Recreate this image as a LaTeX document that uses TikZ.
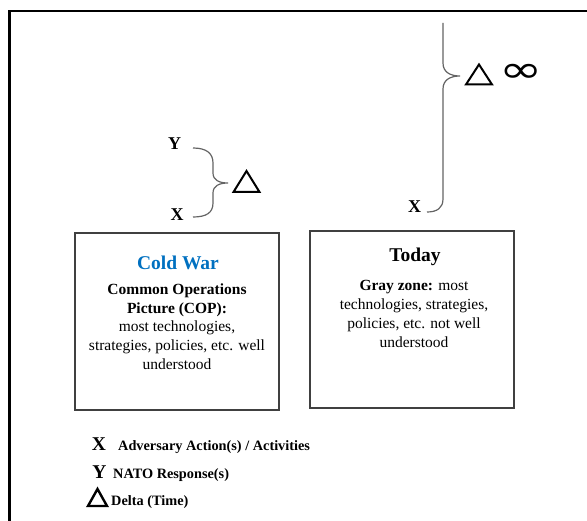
\documentclass[tikz,border=0pt]{standalone}
\usepackage{fontspec}
\usetikzlibrary{calc}
\setmainfont{Liberation Serif}
\newfontfamily\symfont{DejaVu Sans}
\definecolor{cwblue}{RGB}{0,112,192}
\definecolor{boxgray}{RGB}{64,64,64}
\definecolor{bracegray}{RGB}{100,100,100}
\begin{document}
\begin{tikzpicture}[x=1pt,y=-1pt,
  panel/.style={draw=boxgray,line width=1.3pt,minimum width=204pt,minimum height=177pt,inner sep=0pt},
  ln/.style={anchor=base,inner sep=0pt,font=\fontsize{15.5}{19}\selectfont},
  lnb/.style={ln,font=\fontsize{15.5}{19}\selectfont\bfseries},
  ttl/.style={anchor=base,inner sep=0pt,font=\fontsize{19.5}{22}\selectfont\bfseries},
  lbl/.style={anchor=base,inner sep=0pt,font=\fontsize{18}{20}\selectfont\bfseries},
  bigl/.style={anchor=base,inner sep=0pt,font=\fontsize{19.5}{22}\selectfont\bfseries},
  leg/.style={anchor=base west,inner sep=0pt,font=\fontsize{14.3}{17}\selectfont\bfseries},
  brace/.style={draw=bracegray,line width=1.2pt},
  tri/.style={draw=black,line width=2pt,line join=miter},
  frame/.style={draw=black,line width=2.2pt}]
\useasboundingbox (0,0) rectangle (587,521);
% outer frame
\coordinate (fbl) at (9.5,521);
\coordinate (ftl) at (9.5,11);
\coordinate (ftr) at (587,11);
\draw[frame] (fbl) -- (ftl) -- (ftr);

% panels
\node[panel] (cw) at (177,321.5) {};
\node[panel] (td) at (412,319.5) {};

% Cold War text
\node[ttl,text=cwblue] (cwt) at (178,270) {Cold War};
\node[lnb] (cw1) at (177,295) {Common Operations};
\node[lnb] (cw2) at (177,313.5) {Picture (COP):};
\node[ln] (cw3) at (177,332) {most technologies,};
\node[ln] (cw4) at (177,351) {strategies, policies, etc. well};
\node[ln] (cw5) at (177,369.5) {understood};

% Today text
\node[ttl] (tdt) at (415,262) {Today};
\node[ln] (td1) at (414,291) {\textbf{Gray zone:} most};
\node[ln] (td2) at (414,310) {technologies, strategies,};
\node[ln] (td3) at (414,329) {policies, etc. not well};
\node[ln] (td4) at (414,348) {understood};

% left brace
\node[lbl] (ly) at (174.5,150) {Y};
\node[lbl] (lx) at (177,221) {X};
\coordinate (lb1) at (193,148);
\coordinate (lb2) at (193,217);
\coordinate (lbt) at (228,183);
\draw[brace] (lb1) .. controls (206,148) and (213,153) .. (213,163) -- (213,173)
  .. controls (213,180) and (219,183) .. (lbt)
  .. controls (219,183) and (213,186) .. (213,193) -- (213,203)
  .. controls (213,213) and (206,217) .. (lb2);
\coordinate (t1) at (246.5,181.5);
\draw[tri] ($(t1)+(0,-10.5)$) -- ($(t1)+(13,10.5)$) -- ($(t1)+(-13,10.5)$) -- cycle;

% right brace
\node[lbl] (rx) at (414.5,213) {X};
\coordinate (rb1) at (443,23);
\coordinate (rb2) at (427,212);
\coordinate (rbt) at (460,76);
\draw[brace] (rb1) -- (443,63)
  .. controls (443,72) and (450,76) .. (rbt)
  .. controls (450,76) and (443,80) .. (443,89) -- (443,199)
  .. controls (443,208) and (437,212) .. (rb2);
\coordinate (t2) at (479,74.5);
\draw[tri] ($(t2)+(0,-10)$) -- ($(t2)+(13,10)$) -- ($(t2)+(-13,10)$) -- cycle;
\node[inner sep=0pt] (inf) at (521,73.5) {\scalebox{1}[0.72]{\symfont\fontsize{52}{52}\selectfont ∞}};

% legend
\node[bigl] (gx) at (99,450.5) {X};
\node[leg] (gxt) at (118,450.5) {Adversary Action(s) / Activities};
\node[bigl] (gy) at (99.5,478.5) {Y};
\node[leg] (gyt) at (113,478.5) {NATO Response(s)};
\coordinate (t3) at (97.5,497.5);
\draw[tri,line width=2.4pt] ($(t3)+(0,-8.5)$) -- ($(t3)+(9.5,8.5)$) -- ($(t3)+(-9.5,8.5)$) -- cycle;
\node[leg] (gdt) at (111,505) {Delta (Time)};
\end{tikzpicture}
\end{document}
